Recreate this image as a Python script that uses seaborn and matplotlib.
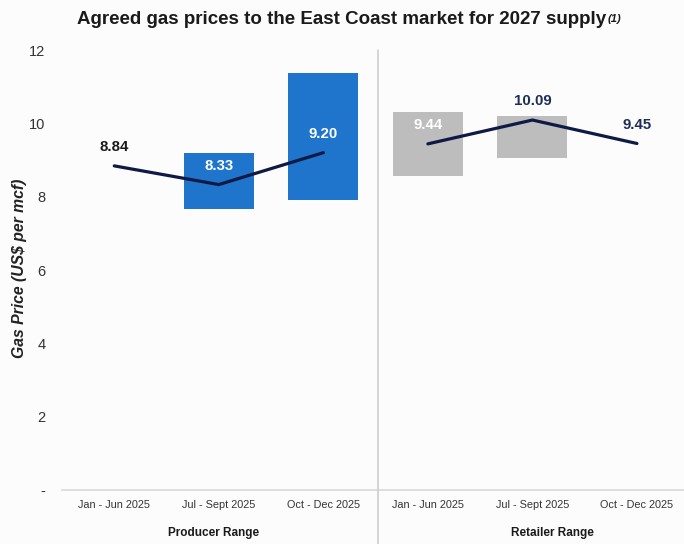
import matplotlib
matplotlib.use("Agg")
import matplotlib.pyplot as plt
import seaborn as sns
import numpy as np
import pandas as pd

sns.set_theme(style="white")
plt.rcParams['font.family'] = ['Liberation Sans', 'DejaVu Sans']

# Data
periods = ["Jan - Jun 2025", "Jul - Sept 2025", "Oct - Dec 2025"]
groups = ["Producer Range", "Retailer Range"]
producer_mid = [8.84, 8.33, 9.20]
producer_low = [np.nan, 7.66, 7.90]
producer_high = [np.nan, 9.18, 11.36]
retailer_mid = [9.44, 10.09, 9.45]
retailer_low = [8.56, 9.05, np.nan]
retailer_high = [10.30, 10.19, np.nan]
y_ticks = [0, 2, 4, 6, 8, 10, 12]
y_tick_labels = ["-", "2", "4", "6", "8", "10", "12"]

blue = "#1F74CC"
grey = "#BDBDBD"
navy = "#0E1A45"
bg = "#FCFCFC"

fig = plt.figure(figsize=(6.84, 5.44), dpi=100)
fig.patch.set_facecolor(bg)
ax = fig.add_axes([62/684, 54/544, (684-62)/684, 440/544])
ax.set_facecolor(bg)

n = len(periods)
xp = np.arange(n)
xr = np.arange(n) + n

def float_bars(xs, lows, highs, color):
    lows = np.array(lows, dtype=float)
    highs = np.array(highs, dtype=float)
    m = ~np.isnan(lows)
    ax.bar(xs[m], highs[m] - lows[m], bottom=lows[m], width=0.67,
           color=color, edgecolor="none", zorder=2)

float_bars(xp, producer_low, producer_high, blue)
float_bars(xr, retailer_low, retailer_high, grey)

df_p = pd.DataFrame({"x": xp, "y": producer_mid})
df_r = pd.DataFrame({"x": xr, "y": retailer_mid})
sns.lineplot(data=df_p, x="x", y="y", ax=ax, color=navy, linewidth=2.3, zorder=3)
sns.lineplot(data=df_r, x="x", y="y", ax=ax, color=navy, linewidth=2.3, zorder=3)

label_colors_p = ["#1A1A1A", "white", "white"]
label_colors_r = ["white", "#1F2D5A", "#1F2D5A"]
for x, v, c in zip(xp, producer_mid, label_colors_p):
    ax.annotate(f"{v:.2f}", (x, v), xytext=(0, 13.5), textcoords="offset points",
                ha="center", va="center", fontsize=10.8, fontweight="bold", color=c, zorder=4)
for x, v, c in zip(xr, retailer_mid, label_colors_r):
    ax.annotate(f"{v:.2f}", (x, v), xytext=(0, 13.5), textcoords="offset points",
                ha="center", va="center", fontsize=10.8, fontweight="bold", color=c, zorder=4)

ax.set_xlim(-0.5, 5.45)
ax.set_ylim(0, 12)
ax.set_yticks(y_ticks)
ax.set_yticklabels(y_tick_labels, fontsize=10.5, color="#333333")
ax.set_xticks(np.arange(2 * n))
ax.set_xticklabels(periods + periods, fontsize=7.8, color="#333333")
ax.tick_params(axis="both", length=0)
ax.tick_params(axis="y", pad=12)
ax.tick_params(axis="x", pad=7)

for s in ["top", "right", "left"]:
    ax.spines[s].set_visible(False)
ax.spines["bottom"].set_color("#D9D9D9")
ax.spines["bottom"].set_linewidth(1.2)

ax.set_xlabel("")
ax.set_ylabel("")
fig.text(20/684, 1 - 268/544, "Gas Price (US$ per mcf)", rotation=90,
         ha="center", va="center", fontsize=11.3, style="italic",
         fontweight="bold", color="#222222")

# separator line
sep = plt.Line2D([378/684, 378/684], [0, 494/544], transform=fig.transFigure,
                 color="#CFCFCF", linewidth=1.2)
fig.add_artist(sep)

# group labels
fig.text(214/684, 1 - 533/544, groups[0], ha="center", va="center",
         fontsize=8.5, fontweight="bold", color="#1A1A1A")
fig.text(552/684, 1 - 533/544, groups[1], ha="center", va="center",
         fontsize=8.5, fontweight="bold", color="#1A1A1A")

# title
t = fig.text(342/684, 1 - 20/544,
             "Agreed gas prices to the East Coast market for 2027 supply",
             ha="center", va="center", fontsize=13.5, fontweight="bold", color="#1A1A1A")
fig.canvas.draw()
bb = t.get_window_extent()
fig.text((bb.x1 + 1) / 684, (bb.y1 - 2) / 544, "(1)", ha="left", va="top",
         fontsize=8, style="italic", fontweight="bold", color="#1A1A1A")

fig.savefig("out.png", dpi=100, facecolor=fig.get_facecolor())
